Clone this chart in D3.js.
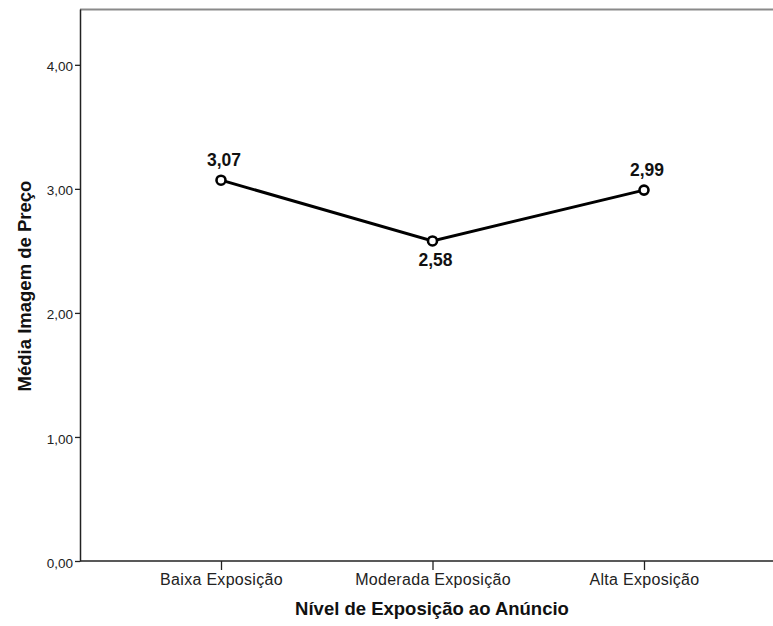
<!DOCTYPE html>
<html><head><meta charset="utf-8">
<script src="https://cdn.jsdelivr.net/npm/d3@7"></script>
<style>body{margin:0;background:#fff}svg{display:block}</style>
</head><body>
<script>
const categories = ["Baixa Exposição", "Moderada Exposição", "Alta Exposição"];
const values = [3.07, 2.58, 2.99];
const valueLabels = ["3,07", "2,58", "2,99"];
const yTicks = [0, 1, 2, 3, 4];
const yTickLabels = ["0,00", "1,00", "2,00", "3,00", "4,00"];
const labelPos = ["above", "below", "above"];

const W = 773, H = 626;
const mLeft = 80, mRight = 773, mTop = 9, mBottom = 561;
const FONT = "Liberation Sans, Arial, sans-serif";
const svg = d3.select("body").append("svg").attr("width", W).attr("height", H)
  .style("font-family", FONT);

const y = d3.scaleLinear().domain([0, 4.45]).range([mBottom, mTop]);
const x = d3.scalePoint().domain(categories).range([221, 644]);

// top frame line
svg.append("line").attr("x1", mLeft).attr("x2", mRight).attr("y1", mTop + 0.5).attr("y2", mTop + 0.5)
  .attr("stroke", "#8a8a8a").attr("stroke-width", 2.2);

// y axis
const ya = svg.append("g").attr("transform", `translate(${mLeft},0)`)
  .call(d3.axisLeft(y).tickValues(yTicks).tickFormat((d, i) => yTickLabels[i]).tickSize(5).tickSizeOuter(0).tickPadding(2));
ya.select(".domain").attr("stroke", "#222").attr("stroke-width", 1.5);
ya.selectAll(".tick line").attr("stroke", "#222").attr("stroke-width", 1.3);
ya.selectAll(".tick text").attr("font-size", 13.5).attr("fill", "#222").attr("dy", "0.45em").attr("font-family", FONT);

// x axis
const xa = svg.append("g").attr("transform", `translate(0,${mBottom})`)
  .call(d3.axisBottom(x).tickSize(9).tickSizeOuter(0).tickPadding(4));
xa.select(".domain").attr("stroke", "#222").attr("stroke-width", 1.5).attr("d", `M${mLeft},0H${mRight}`);
xa.selectAll(".tick line").attr("stroke", "#222").attr("stroke-width", 1.3);
xa.selectAll(".tick text").attr("font-size", 16).attr("fill", "#222")
  .attr("letter-spacing", "0.3px").attr("font-family", FONT);

// line
const data = categories.map((c, i) => ({c, v: values[i], l: valueLabels[i], p: labelPos[i]}));
svg.append("path").datum(data)
  .attr("d", d3.line().x(d => x(d.c)).y(d => y(d.v)))
  .attr("fill", "none").attr("stroke", "#000").attr("stroke-width", 3);

svg.selectAll("circle.pt").data(data).enter().append("circle")
  .attr("cx", d => x(d.c)).attr("cy", d => y(d.v)).attr("r", 4.5)
  .attr("fill", "#fff").attr("stroke", "#000").attr("stroke-width", 2.6);

svg.selectAll("text.vl").data(data).enter().append("text")
  .attr("x", d => x(d.c)).attr("dx", 3).attr("y", d => y(d.v) + (d.p === "above" ? -14 : 25))
  .attr("text-anchor", "middle").attr("font-size", 17.5).attr("font-weight", "bold")
  .attr("fill", "#111").text(d => d.l);

// axis titles
svg.append("text").attr("x", 432).attr("y", 615).attr("text-anchor", "middle")
  .attr("font-size", 18.5).attr("font-weight", "bold").attr("fill", "#111")
  .text("Nível de Exposição ao Anúncio");
svg.append("text").attr("transform", `translate(31,286) rotate(-90)`)
  .attr("text-anchor", "middle").attr("font-size", 18.5).attr("font-weight", "bold").attr("fill", "#111")
  .text("Média Imagem de Preço");
</script>
</body></html>
